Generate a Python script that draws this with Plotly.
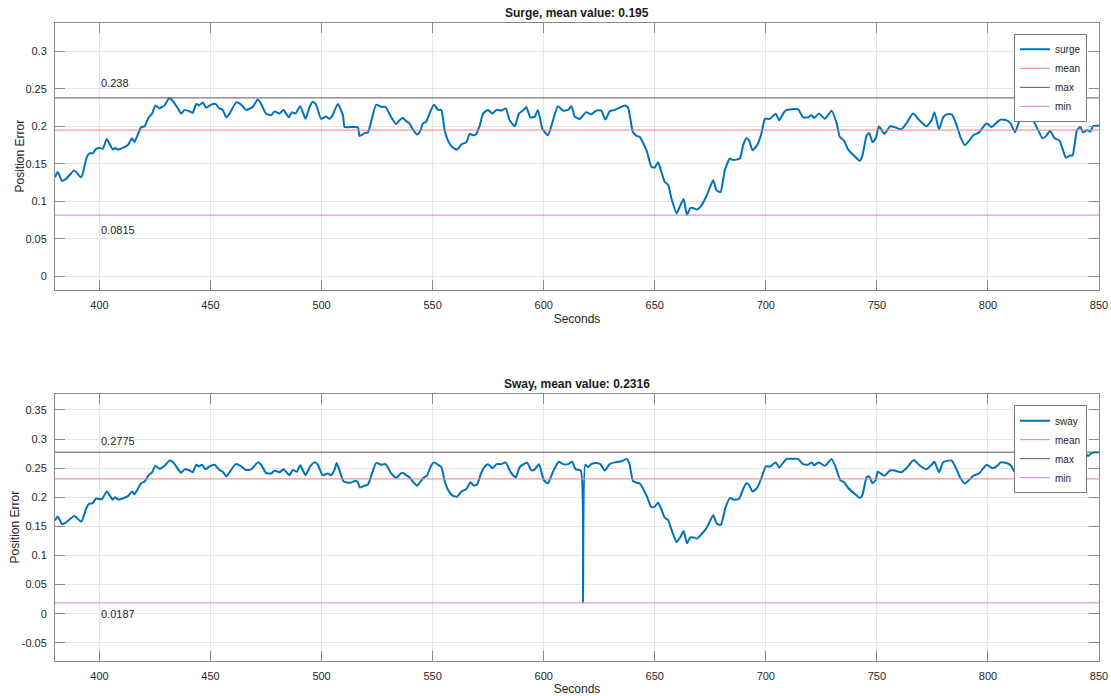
import plotly.graph_objects as go

# ---------------- data ----------------
t_surge = [380, 381.2, 383.2, 385, 388.7, 391.8, 394.3, 395.5, 397, 398.5, 400, 401.5, 403.3, 406, 407, 408.6,
           412.8, 414.7, 415.7, 418.8, 420.3, 422.2, 423.7, 425.2, 427, 429.3, 431.5, 433, 435.3, 436.8, 438.3,
           440.6, 442, 443.6, 445, 446.5, 448, 450.3, 452.2, 454, 455.5, 457.1, 458.6, 461.6, 463.8, 466, 469,
           471.3, 472.8, 475, 477.4, 478.8, 481, 482.9, 485.2, 486.7, 488.2, 490.4, 492.8, 494.6, 496, 497.5,
           499.8, 502, 503.6, 505, 507.3, 509.6, 510.4, 512.7, 515.4, 516.5, 517.1, 519.4, 520.9, 524.6, 526.8,
           528.8, 531.4, 533.6, 535.1, 536.6, 538.1, 539.6, 541.1, 543, 544.5, 545.6, 547.1, 548.6, 550.6, 552.4,
           553.9, 555.4, 556.9, 558.9, 561, 563, 565.2, 566.7, 568.2, 569.4, 571.2, 572.7, 574.9, 576.9, 578.8,
           581, 582.9, 584.7, 587, 588.9, 591, 592.2, 594, 596, 597.4, 599.4, 601.9, 604.2, 606.4, 608.7, 611,
           612.5, 614, 616.2, 619.2, 621.4, 623.7, 625.9, 627.8, 629.7, 632, 634.2, 636.5, 638, 640.2, 642, 643.2,
           646.3, 648.5, 650, 651.5, 653, 654.5, 656, 657.5, 659.8, 661.3, 663, 664.5, 666, 667.2, 669, 670.9,
           673.3, 676.3, 677.8, 679.6, 681.5, 683.8, 685.3, 688.3, 689.8, 691.3, 692.5, 694, 696.1, 698, 699.6,
           701.8, 704.5, 706, 707.8, 709.3, 712.3, 714.5, 716.8, 719.1, 720.6, 721.7, 723.9, 726.6, 729.6, 731.9,
           733.3, 735.2, 737.1, 740, 742.3, 743.5, 745.4, 746.6, 748, 749.5, 750.9, 753.4, 755.9, 758, 761, 763.3,
           766.3, 769.2, 772.3, 774.6, 775.9, 778, 779.8, 781.4, 783.7, 786, 787.6, 789.6, 791.6, 793.4, 796,
           799.4, 801.6, 803.9, 805.7, 808.4, 810.2, 812.2, 814.5, 816.8, 818.6, 820.4, 822.6, 824.6, 826.4, 828,
           830, 832.2, 833.6, 835.1, 836.9, 838.1, 840.1, 841.6, 842.8, 844.6, 846.1, 847.3, 850]
v_surge = [0.132, 0.139, 0.127, 0.130, 0.141, 0.132, 0.159, 0.164, 0.164, 0.170, 0.171, 0.170, 0.183, 0.169, 0.171,
           0.169, 0.175, 0.184, 0.179, 0.199, 0.200, 0.212, 0.217, 0.228, 0.224, 0.228, 0.238, 0.234, 0.224, 0.217,
           0.222, 0.220, 0.218, 0.230, 0.228, 0.232, 0.225, 0.229, 0.230, 0.224, 0.222, 0.212, 0.217, 0.232, 0.229,
           0.222, 0.226, 0.236, 0.230, 0.217, 0.215, 0.220, 0.217, 0.222, 0.212, 0.219, 0.217, 0.227, 0.210, 0.226,
           0.233, 0.229, 0.210, 0.213, 0.210, 0.215, 0.230, 0.215, 0.199, 0.199, 0.199, 0.198, 0.187, 0.191, 0.192,
           0.229, 0.226, 0.226, 0.212, 0.203, 0.208, 0.211, 0.207, 0.204, 0.196, 0.189, 0.194, 0.204, 0.206, 0.217,
           0.229, 0.222, 0.222, 0.195, 0.181, 0.172, 0.169, 0.176, 0.179, 0.190, 0.188, 0.189, 0.201, 0.217, 0.222,
           0.217, 0.222, 0.221, 0.224, 0.208, 0.200, 0.217, 0.222, 0.226, 0.212, 0.213, 0.222, 0.197, 0.188, 0.208,
           0.227, 0.221, 0.222, 0.227, 0.213, 0.210, 0.219, 0.216, 0.221, 0.221, 0.209, 0.220, 0.222, 0.225, 0.228,
           0.225, 0.192, 0.187, 0.186, 0.168, 0.146, 0.145, 0.152, 0.139, 0.126, 0.122, 0.104, 0.084, 0.093, 0.103,
           0.0815, 0.091, 0.091, 0.089, 0.094, 0.107, 0.128, 0.115, 0.112, 0.141, 0.157, 0.155, 0.157, 0.175, 0.184,
           0.181, 0.168, 0.175, 0.190, 0.210, 0.210, 0.217, 0.208, 0.217, 0.222, 0.223, 0.223, 0.212, 0.212, 0.215,
           0.211, 0.217, 0.210, 0.221, 0.204, 0.186, 0.181, 0.169, 0.160, 0.154, 0.161, 0.188, 0.191, 0.179, 0.184,
           0.200, 0.190, 0.200, 0.199, 0.196, 0.204, 0.217, 0.208, 0.200, 0.208, 0.219, 0.196, 0.212, 0.216, 0.216,
           0.201, 0.186, 0.175, 0.181, 0.188, 0.192, 0.204, 0.199, 0.205, 0.209, 0.208, 0.204, 0.192, 0.210, 0.215,
           0.217, 0.208, 0.195, 0.184, 0.188, 0.194, 0.184, 0.181, 0.170, 0.158, 0.161, 0.161, 0.195, 0.199, 0.192,
           0.195, 0.193, 0.200, 0.201]

t_sway = [380, 381.2, 383.2, 385, 388.7, 391.8, 394.3, 395.5, 397, 398.5, 400, 401.2, 403.3, 406, 407, 408.6,
          412.8, 414.7, 415.7, 418.8, 420.3, 422.2, 423.7, 425.2, 427, 429.3, 431.5, 433, 435.3, 436.8, 438.3,
          440.6, 442, 443.6, 444.8, 446.2, 447.7, 449.5, 451.8, 454, 455.5, 457.1, 458.6, 461.3, 463.8, 465.8,
          468.4, 471.3, 472.8, 475, 477.4, 478.8, 481, 482.9, 485.6, 487, 488.9, 490.4, 492.8, 494.9, 496.8,
          498.3, 500.5, 502.8, 504.3, 505.8, 506.8, 508, 510, 512.7, 515, 516.2, 517.2, 519.4, 520.9, 524.6,
          526.8, 528.8, 531.4, 533.6, 535.4, 536.6, 538.1, 539.6, 541.1, 543, 544.5, 546, 547.4, 548.9, 550.6,
          552.4, 553.9, 555.5, 557.2, 559, 561, 563, 565.2, 567, 568.5, 570, 571.8, 573.3, 574.9, 576.9, 578.8,
          581, 582.9, 585, 587.4, 589.2, 591, 592.5, 594.5, 596, 597.9, 600, 601.9, 604.2, 606.8, 608.7, 611,
          612.8, 614.4, 616.7, 617.7, 618.7, 619.9, 621.4, 623.7, 625.5, 627.5, 629.7, 632, 633.9, 635.7, 637.3,
          638.5, 640.2, 642, 643.5, 646.3, 648.5, 650, 651.5, 653, 654.5, 656, 657.5, 659.8, 661.6, 663, 664.5,
          666, 667.5, 669, 670.9, 673.3, 676.3, 678.1, 679.8, 681.9, 684, 685.5, 687.9, 690, 691.3, 692.5, 694,
          696.1, 698, 700, 702, 704.5, 706, 707.8, 709.3, 712.3, 714.5, 716.8, 719.1, 720.6, 721.7, 723.9, 726.6,
          729.6, 731.9, 733.6, 735.2, 737.1, 740, 742.3, 743.5, 745.4, 746.6, 748, 749.5, 750.4, 753.4, 755.9,
          758, 761, 763.3, 766.6, 769.2, 772.3, 774.6, 775.9, 778, 779.8, 782.1, 783.7, 786, 787.6, 789.6, 791.6,
          793.4, 796, 799.4, 801.9, 804.2, 805.7, 808.4, 810.2, 812.2, 813.7, 816, 818, 819.6, 821.9, 824.9,
          827.1, 828.6, 830.1, 832.4, 834.6, 836.9, 838.4, 840.2, 841.6, 843.7, 845.1, 846.6, 848.7, 850]
v_sway = [0.160, 0.167, 0.154, 0.157, 0.168, 0.158, 0.183, 0.189, 0.190, 0.198, 0.197, 0.197, 0.210, 0.196, 0.200,
          0.196, 0.202, 0.210, 0.205, 0.224, 0.227, 0.238, 0.243, 0.254, 0.249, 0.254, 0.263, 0.261, 0.249, 0.242,
          0.248, 0.246, 0.243, 0.256, 0.253, 0.256, 0.248, 0.253, 0.256, 0.247, 0.244, 0.236, 0.243, 0.257, 0.253,
          0.247, 0.248, 0.260, 0.256, 0.242, 0.241, 0.246, 0.243, 0.248, 0.238, 0.247, 0.244, 0.255, 0.238, 0.253,
          0.260, 0.256, 0.238, 0.241, 0.238, 0.247, 0.259, 0.247, 0.227, 0.225, 0.228, 0.227, 0.217, 0.220, 0.222,
          0.259, 0.256, 0.257, 0.241, 0.233, 0.240, 0.242, 0.238, 0.234, 0.227, 0.220, 0.227, 0.234, 0.237, 0.251,
          0.260, 0.256, 0.252, 0.227, 0.211, 0.203, 0.201, 0.210, 0.214, 0.226, 0.220, 0.222, 0.241, 0.252, 0.257,
          0.250, 0.257, 0.257, 0.260, 0.244, 0.234, 0.252, 0.257, 0.260, 0.246, 0.248, 0.257, 0.230, 0.224, 0.244,
          0.261, 0.257, 0.257, 0.261, 0.248, 0.246, 0.0187, 0.256, 0.252, 0.257, 0.259, 0.257, 0.246, 0.257, 0.260,
          0.261, 0.263, 0.266, 0.259, 0.228, 0.225, 0.223, 0.203, 0.183, 0.184, 0.191, 0.179, 0.165, 0.161, 0.145,
          0.123, 0.132, 0.142, 0.121, 0.131, 0.131, 0.129, 0.136, 0.147, 0.169, 0.154, 0.153, 0.183, 0.199, 0.196,
          0.197, 0.216, 0.224, 0.221, 0.210, 0.216, 0.233, 0.253, 0.253, 0.260, 0.251, 0.259, 0.266, 0.266, 0.266,
          0.257, 0.256, 0.260, 0.255, 0.260, 0.254, 0.266, 0.247, 0.229, 0.226, 0.216, 0.206, 0.199, 0.204, 0.235,
          0.236, 0.224, 0.230, 0.244, 0.237, 0.246, 0.246, 0.243, 0.250, 0.264, 0.255, 0.248, 0.256, 0.261, 0.243,
          0.260, 0.263, 0.263, 0.247, 0.233, 0.224, 0.230, 0.237, 0.241, 0.256, 0.250, 0.254, 0.260, 0.259, 0.255,
          0.243, 0.261, 0.266, 0.268, 0.267, 0.253, 0.241, 0.247, 0.241, 0.236, 0.238, 0.224, 0.236, 0.241, 0.273,
          0.270, 0.276, 0.271, 0.276, 0.2775, 0.277]

surge_stats = {"mean": 0.195, "max": 0.238, "min": 0.0815}
sway_stats = {"mean": 0.2316, "max": 0.2775, "min": 0.0187}

x_range = [380, 850]
x_ticks = [400, 450, 500, 550, 600, 650, 700, 750, 800, 850]
top_yticks = [0, 0.05, 0.1, 0.15, 0.2, 0.25, 0.3]
top_ylabels = ["0", "0.05", "0.1", "0.15", "0.2", "0.25", "0.3"]
bot_yticks = [-0.05, 0, 0.05, 0.1, 0.15, 0.2, 0.25, 0.3, 0.35]
bot_ylabels = ["-0.05", "0", "0.05", "0.1", "0.15", "0.2", "0.25", "0.3", "0.35"]
label_x = 400
y_title = "Position Error"
x_title = "Seconds"

# ---------------- styling ----------------
FONT = "Liberation Sans, Arial, Helvetica, sans-serif"
TXT = "#262626"
C_LINE = "#0072BD"
C_MEAN = "#f08080"
C_MAX = "#5a5a5a"
C_MIN = "#e27ee2"
FRAME = "#8a8a8a"
GRID = "#e6e6e6"

fig = go.Figure()


def add_panel(t, v, name, stats, xa, ya, legend):
    fig.add_trace(go.Scatter(x=t, y=v, mode="lines", name=name,
                             line=dict(color=C_LINE, width=2, shape="spline", smoothing=0.5),
                             xaxis=xa, yaxis=ya, legend=legend))
    for key, col in (("mean", C_MEAN), ("max", C_MAX), ("min", C_MIN)):
        fig.add_trace(go.Scatter(x=x_range, y=[stats[key]] * 2, mode="lines", name=key,
                                 line=dict(color=col, width=1), xaxis=xa, yaxis=ya, legend=legend))
    fig.add_annotation(x=label_x, y=stats["max"] + 0.02, xref=xa, yref=ya, text=str(stats["max"]),
                       showarrow=False, xanchor="left", yanchor="middle", font=dict(size=11, color=TXT))
    fig.add_annotation(x=label_x, y=stats["min"] - 0.02, xref=xa, yref=ya, text=str(stats["min"]),
                       showarrow=False, xanchor="left", yanchor="middle", font=dict(size=11, color=TXT))


add_panel(t_surge, v_surge, "surge", surge_stats, "x", "y", "legend")
add_panel(t_sway, v_sway, "sway", sway_stats, "x2", "y2", "legend2")

top_dom = [0.5815, 1.0]
bot_dom = [0.0, 0.4185]

xcommon = dict(range=x_range, tickvals=x_ticks, ticks="inside", ticklen=10, tickcolor=FRAME,
               showline=True, linecolor=FRAME, linewidth=1, mirror="allticks", showgrid=True,
               gridcolor=GRID, zeroline=False, tickfont=dict(size=11, color=TXT), automargin=False,
               ticklabelstandoff=5,
               title=dict(text=x_title, font=dict(size=12, color=TXT), standoff=4))
ycommon = dict(ticks="inside", ticklen=10, tickcolor=FRAME, showline=True, linecolor=FRAME, linewidth=1,
               mirror="allticks", showgrid=True, gridcolor=GRID, zeroline=False, automargin=False,
               tickfont=dict(size=11, color=TXT), ticklabelstandoff=5)

fig.update_layout(
    width=1111, height=696,
    margin=dict(l=55, r=12, t=23, b=35, autoexpand=False),
    paper_bgcolor="white", plot_bgcolor="white",
    font=dict(family=FONT, color=TXT),
    xaxis=dict(domain=[0, 1], anchor="y", **xcommon),
    yaxis=dict(domain=top_dom, anchor="x", range=[surge_stats["min"] - 0.1, surge_stats["max"] + 0.1],
               tickvals=top_yticks, ticktext=top_ylabels, **ycommon),
    xaxis2=dict(domain=[0, 1], anchor="y2", **xcommon),
    yaxis2=dict(domain=bot_dom, anchor="x2", range=[sway_stats["min"] - 0.1, sway_stats["max"] + 0.1],
                tickvals=bot_yticks, ticktext=bot_ylabels, **ycommon),
    legend=dict(x=0.9885, y=0.983, xanchor="right", yanchor="top", bgcolor="white",
                bordercolor="#7a7a7a", borderwidth=1, font=dict(size=10, color=TXT),
                tracegroupgap=0, itemwidth=30),
    legend2=dict(x=0.9885, y=0.401, xanchor="right", yanchor="top", bgcolor="white",
                 bordercolor="#7a7a7a", borderwidth=1, font=dict(size=10, color=TXT),
                 tracegroupgap=0, itemwidth=30),
    showlegend=True,
)

# panel titles
fig.add_annotation(x=0.5, y=top_dom[1], xref="paper", yref="paper", yanchor="bottom", yshift=1,
                   text="<b>Surge, mean value: %s</b>" % surge_stats["mean"], showarrow=False,
                   font=dict(size=12, color="#1a1a1a"))
fig.add_annotation(x=0.5, y=bot_dom[1], xref="paper", yref="paper", yanchor="bottom", yshift=1,
                   text="<b>Sway, mean value: %s</b>" % sway_stats["mean"], showarrow=False,
                   font=dict(size=12, color="#1a1a1a"))
# y-axis titles
fig.add_annotation(x=0, y=(top_dom[0] + top_dom[1]) / 2, xref="paper", yref="paper", xanchor="center",
                   yanchor="middle", xshift=-35, textangle=-90, text=y_title, showarrow=False,
                   font=dict(size=12, color=TXT))
fig.add_annotation(x=0, y=(bot_dom[0] + bot_dom[1]) / 2, xref="paper", yref="paper", xanchor="center",
                   yanchor="middle", xshift=-40, textangle=-90, text=y_title, showarrow=False,
                   font=dict(size=12, color=TXT))

fig.write_html("out.html")
